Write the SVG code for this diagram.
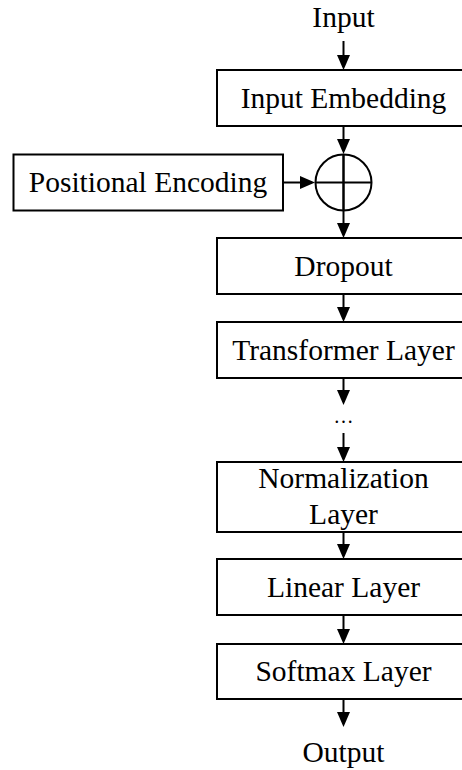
<svg xmlns="http://www.w3.org/2000/svg" width="462" height="770" viewBox="0 0 462 770">
<style>
.box{fill:#fff;stroke:#000;stroke-width:2}
.t{font-family:"Liberation Serif","Times New Roman",serif;font-size:29.5px;fill:#000;text-anchor:middle}
.c{fill:none;stroke:#000;stroke-width:2}
</style>
<defs>
<marker id="ah" markerUnits="userSpaceOnUse" markerWidth="15" markerHeight="13" refX="12" refY="6.5" orient="auto">
<path d="M0,0 L15,6.5 L0,13 z" fill="#000"/>
</marker>
</defs>
<rect width="462" height="770" fill="#fff"/>
<g id="connectors" class="c">
<line x1="343.5" y1="41" x2="343.5" y2="67" marker-end="url(#ah)"/>
<line x1="343.5" y1="126" x2="343.5" y2="151" marker-end="url(#ah)"/>
<line x1="283" y1="182.5" x2="312" y2="182.5" marker-end="url(#ah)"/>
<line x1="343.5" y1="154" x2="343.5" y2="235" marker-end="url(#ah)"/>
<line x1="343.5" y1="294" x2="343.5" y2="319" marker-end="url(#ah)"/>
<line x1="343.5" y1="378" x2="343.5" y2="402" marker-end="url(#ah)"/>
<line x1="343.5" y1="433" x2="343.5" y2="459" marker-end="url(#ah)"/>
<line x1="343.5" y1="532" x2="343.5" y2="556" marker-end="url(#ah)"/>
<line x1="343.5" y1="615" x2="343.5" y2="641" marker-end="url(#ah)"/>
<line x1="343.5" y1="699" x2="343.5" y2="724" marker-end="url(#ah)"/>
</g>
<g id="input"><text class="t" x="343.5" y="26.5">Input</text></g>
<g id="input-embedding"><rect class="box" x="217" y="70" width="253" height="56"/><text class="t" x="343.5" y="108">Input Embedding</text></g>
<g id="positional-encoding"><rect class="box" x="13.5" y="154.5" width="269.5" height="56"/><text class="t" x="148" y="192">Positional Encoding</text></g>
<g id="add"><circle cx="343.5" cy="182.5" r="28" fill="none" stroke="#000" stroke-width="2"/><line x1="315.5" y1="182.5" x2="371.5" y2="182.5" stroke="#000" stroke-width="2"/><line x1="343.5" y1="154.5" x2="343.5" y2="210.5" stroke="#000" stroke-width="2"/></g>
<g id="dropout"><rect class="box" x="217" y="238" width="253" height="56"/><text class="t" x="343.5" y="275.5">Dropout</text></g>
<g id="transformer-layer"><rect class="box" x="217" y="322" width="253" height="56"/><text class="t" x="343.5" y="360">Transformer Layer</text></g>
<g id="ellipsis"><text class="t" x="343.5" y="423" style="font-size:20px">…</text></g>
<g id="normalization-layer"><rect class="box" x="217" y="462" width="253" height="70"/><text class="t" x="343.5" y="488">Normalization</text><text class="t" x="343.5" y="524">Layer</text></g>
<g id="linear-layer"><rect class="box" x="217" y="559" width="253" height="56"/><text class="t" x="343.5" y="597">Linear Layer</text></g>
<g id="softmax-layer"><rect class="box" x="217" y="644" width="253" height="55"/><text class="t" x="343.5" y="681">Softmax Layer</text></g>
<g id="output"><text class="t" x="343.5" y="762">Output</text></g>
</svg>
